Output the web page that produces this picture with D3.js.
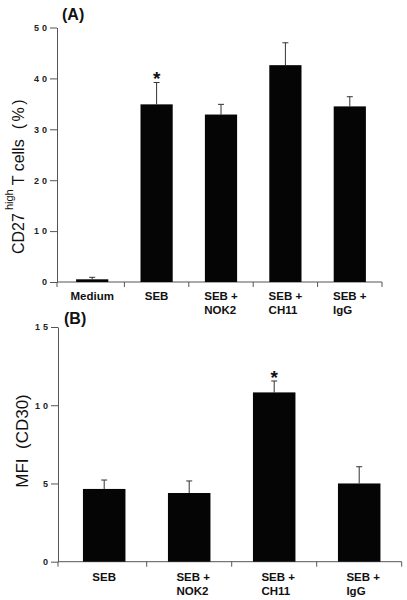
<!DOCTYPE html>
<html>
<head>
<meta charset="utf-8">
<script src="https://cdn.jsdelivr.net/npm/d3@7"></script>
<style>
  html, body { margin: 0; padding: 0; background: #fff; }
  svg { display: block; font-family: "Liberation Sans", Arial, Helvetica, sans-serif; }
</style>
</head>
<body>
<svg id="chart" width="407" height="600"></svg>
<script>
// Panel A data
const catsA = [["Medium"], ["SEB"], ["SEB +", "NOK2"], ["SEB +", "CH11"], ["SEB +", "IgG"]];
const valsA = [0.53, 34.9, 32.9, 42.6, 34.5];
const errA  = [0.92, 39.2, 34.9, 47.0, 36.4];
const ticksA = [0, 10, 20, 30, 40, 50];
const starA = [1];

// Panel B data
const catsB = [["SEB"], ["SEB +", "NOK2"], ["SEB +", "CH11"], ["SEB +", "IgG"]];
const valsB = [4.65, 4.39, 10.82, 5.0];
const errB  = [5.22, 5.16, 11.55, 6.07];
const ticksB = [0, 5, 10, 15];
const starB = [2];

const svg = d3.select("#chart");

function panel(cfg) {
  const g = svg.append("g");
  const x = d3.scaleBand().domain(d3.range(cfg.cats.length)).range(cfg.xr).paddingInner(0.5).paddingOuter(0.25);
  const y = d3.scaleLinear().domain(cfg.ydom).range(cfg.yr);

  // y axis
  const ya = g.append("g").attr("transform", `translate(${cfg.axisX},0)`)
    .call(d3.axisLeft(y).tickValues(cfg.ticks).tickSize(7).tickPadding(0).tickSizeOuter(0));
  ya.select(".domain").attr("stroke", "#555").attr("stroke-width", 1);
  ya.selectAll(".tick line").attr("stroke", "#555");
  ya.selectAll(".tick text").attr("font-size", 9).attr("font-weight", "bold")
    .attr("letter-spacing", "3px").attr("fill", "#222")
    .attr("font-family", "'Liberation Sans', Arial, sans-serif");

  // x axis line
  const y0 = y(0);
  g.append("line").attr("x1", cfg.axisX).attr("x2", cfg.xr[1]).attr("y1", y0).attr("y2", y0)
    .attr("stroke", "#555").attr("stroke-width", 1);
  const bounds = [cfg.axisX].concat(d3.range(1, cfg.cats.length + 1).map(i => cfg.xr[0] + i * x.step()));
  g.selectAll(".xt").data(bounds).join("line")
    .attr("x1", d => d).attr("x2", d => d).attr("y1", y0).attr("y2", y0 + 5)
    .attr("stroke", "#555");

  // error bars
  const cap = 3;
  g.selectAll(".eb").data(cfg.vals).join("line")
    .attr("x1", (d, i) => x(i) + x.bandwidth() / 2).attr("x2", (d, i) => x(i) + x.bandwidth() / 2)
    .attr("y1", d => y(d)).attr("y2", (d, i) => y(cfg.err[i]))
    .attr("stroke", "#333").attr("stroke-width", 1);
  g.selectAll(".ec").data(cfg.err).join("line")
    .attr("x1", (d, i) => x(i) + x.bandwidth() / 2 - cap).attr("x2", (d, i) => x(i) + x.bandwidth() / 2 + cap)
    .attr("y1", d => y(d)).attr("y2", d => y(d))
    .attr("stroke", "#333").attr("stroke-width", 1);

  // bars
  g.selectAll(".bar").data(cfg.vals).join("rect")
    .attr("x", (d, i) => x(i)).attr("width", x.bandwidth())
    .attr("y", d => y(d)).attr("height", d => y0 - y(d))
    .attr("fill", "#050505");

  // stars
  g.selectAll(".star").data(cfg.stars).join("text")
    .attr("x", i => x(i) + x.bandwidth() / 2).attr("y", i => y(cfg.err[i]) + 3)
    .attr("text-anchor", "middle").attr("font-size", 19).attr("font-weight", "bold").attr("fill", "#111")
    .text("*");

  // category labels
  cfg.cats.forEach((lines, i) => {
    const cx = x(i) + x.bandwidth() / 2 + (lines.length > 1 ? cfg.labShift : 0);
    const t = g.append("text").attr("font-size", 11.5).attr("font-weight", "bold").attr("fill", "#111");
    lines.forEach((s, k) => {
      t.append("tspan").attr("x", cx).attr("y", y0 + cfg.labDy + k * 14).text(s);
    });
    if (lines.length > 1) {
      const w = t.select("tspan").node().getComputedTextLength();
      t.selectAll("tspan").attr("x", cx - w / 2);
    } else {
      t.attr("text-anchor", "middle");
    }
  });

  // panel letter
  g.append("text").attr("x", cfg.letterX).attr("y", cfg.letterY)
    .attr("font-size", 16).attr("font-weight", "bold").attr("fill", "#111").text(cfg.letter);
  return {g, x, y};
}

const A = panel({cats: catsA, vals: valsA, err: errA, ticks: ticksA, stars: starA,
  ydom: [0, 50], yr: [282, 27.5], xr: [60, 382], axisX: 57, labDy: 18, labShift: 0,
  letter: "(A)", letterX: 62, letterY: 20});
const B = panel({cats: catsB, vals: valsB, err: errB, ticks: ticksB, stars: starB,
  ydom: [0, 15], yr: [561.7, 327], xr: [61.7, 401.7], axisX: 58, labDy: 19.5, labShift: 4,
  letter: "(B)", letterX: 64, letterY: 324});

// y labels
const ta = svg.append("text").attr("transform", "translate(23.5,254) rotate(-90)")
  .attr("font-size", 16).attr("fill", "#111");
ta.append("tspan").text("CD27");
ta.append("tspan").attr("font-size", 11).attr("dy", -11).attr("dx", 3).text("high");
ta.append("tspan").attr("dy", 11).attr("dx", 4).text("T cells");
ta.append("tspan").attr("dx", 10).attr("letter-spacing", "2.5px").text("(%)");

svg.append("text").attr("transform", "translate(28,441) rotate(-90)")
  .attr("text-anchor", "middle").attr("font-size", 17).attr("fill", "#111")
  .attr("xml:space", "preserve").text("MFI  (CD30)");
</script>
</body>
</html>
